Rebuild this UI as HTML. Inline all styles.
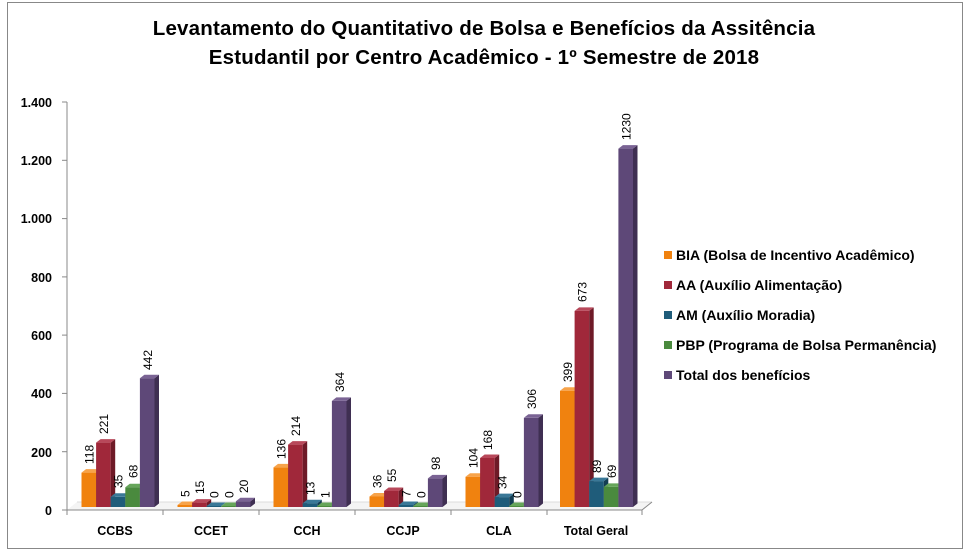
<!DOCTYPE html>
<html><head><meta charset="utf-8"><style>
html,body{margin:0;padding:0;background:#fff}
svg{display:block}
text{font-family:"Liberation Sans",Arial,sans-serif}
.t{font-family:"Liberation Sans",sans-serif;font-weight:bold;font-size:20.5px;fill:#000;letter-spacing:0.2px}
.y{font-weight:bold;font-size:12.5px;text-anchor:end}
.c{font-weight:bold;font-size:12.5px;text-anchor:middle}
.l{font-weight:bold;font-size:14px}
.v{font-size:12px}
.o0{fill:#F0820F}.o1{fill:#B35F08}.o2{fill:#F7A34A}
.r0{fill:#A0283A}.r1{fill:#6E1A27}.r2{fill:#B8485A}
.b0{fill:#1F5C7A}.b1{fill:#143E53}.b2{fill:#3A7897}
.g0{fill:#4A8A3E}.g1{fill:#32602A}.g2{fill:#66A55A}
.p0{fill:#5E4878}.p1{fill:#3F2F52}.p2{fill:#7A6394}
</style></head><body>
<svg width="967" height="554" viewBox="0 0 967 554" xmlns="http://www.w3.org/2000/svg">
<rect x="7.5" y="2.5" width="955" height="546" fill="#fff" stroke="#888" stroke-width="1"/>
<text class="t" x="484" y="35" text-anchor="middle">Levantamento do Quantitativo de Bolsa e Benefícios da Assitência</text>
<text class="t" x="484" y="64" text-anchor="middle">Estudantil  por Centro Acadêmico - 1º Semestre de 2018</text>

<line x1="67" y1="102" x2="67" y2="510" stroke="#888"/>
<g stroke="#888">
<line x1="62" y1="102" x2="67" y2="102"/><line x1="62" y1="160.3" x2="67" y2="160.3"/><line x1="62" y1="218.6" x2="67" y2="218.6"/><line x1="62" y1="276.9" x2="67" y2="276.9"/><line x1="62" y1="335.1" x2="67" y2="335.1"/><line x1="62" y1="393.4" x2="67" y2="393.4"/><line x1="62" y1="451.7" x2="67" y2="451.7"/><line x1="62" y1="510" x2="67" y2="510"/>
</g>
<g class="y">
<text x="52" y="107">1.400</text><text x="52" y="165">1.200</text><text x="52" y="223">1.000</text><text x="52" y="282">800</text><text x="52" y="340">600</text><text x="52" y="398">400</text><text x="52" y="457">200</text><text x="52" y="515">0</text>
</g>
<polygon points="67,510 77,502 652,502 642,510" fill="#f4f4f4"/>
<line x1="77" y1="502" x2="652" y2="502" stroke="#ddd"/>
<line x1="67" y1="510" x2="642" y2="510" stroke="#888"/>
<line x1="642" y1="510" x2="652" y2="502" stroke="#888"/>
<g stroke="#888">
<line x1="67" y1="510" x2="67" y2="515"/><line x1="163" y1="510" x2="163" y2="515"/><line x1="259" y1="510" x2="259" y2="515"/><line x1="355" y1="510" x2="355" y2="515"/><line x1="451" y1="510" x2="451" y2="515"/><line x1="547" y1="510" x2="547" y2="515"/><line x1="642" y1="510" x2="642" y2="515"/>
</g>
<g class="c">
<text x="115" y="535">CCBS</text><text x="211" y="535">CCET</text><text x="307" y="535">CCH</text><text x="403" y="535">CCJP</text><text x="499" y="535">CLA</text><text x="596" y="535">Total Geral</text>
</g>

<g class="v">
<g transform="translate(81.5,0)"><rect class="o0" y="472.6" width="14.6" height="34.4"/><polygon class="o1" points="14.6,472.6 19.1,469.1 19.1,503.5 14.6,507"/><polygon class="o2" points="0,472.6 4.5,469.1 19.1,469.1 14.6,472.6"/><text transform="translate(12,464) rotate(-90)">118</text></g>
<g transform="translate(96.1,0)"><rect class="r0" y="442.6" width="14.6" height="64.4"/><polygon class="r1" points="14.6,442.6 19.1,439.1 19.1,503.5 14.6,507"/><polygon class="r2" points="0,442.6 4.5,439.1 19.1,439.1 14.6,442.6"/><text transform="translate(12,434) rotate(-90)">221</text></g>
<g transform="translate(110.7,0)"><rect class="b0" y="496.8" width="14.6" height="10.2"/><polygon class="b1" points="14.6,496.8 19.1,493.3 19.1,503.5 14.6,507"/><polygon class="b2" points="0,496.8 4.5,493.3 19.1,493.3 14.6,496.8"/><text transform="translate(12,488) rotate(-90)">35</text></g>
<g transform="translate(125.3,0)"><rect class="g0" y="487.2" width="14.6" height="19.8"/><polygon class="g1" points="14.6,487.2 19.1,483.7 19.1,503.5 14.6,507"/><polygon class="g2" points="0,487.2 4.5,483.7 19.1,483.7 14.6,487.2"/><text transform="translate(12,478) rotate(-90)">68</text></g>
<g transform="translate(139.9,0)"><rect class="p0" y="378.2" width="14.6" height="128.8"/><polygon class="p1" points="14.6,378.2 19.1,374.7 19.1,503.5 14.6,507"/><polygon class="p2" points="0,378.2 4.5,374.7 19.1,374.7 14.6,378.2"/><text transform="translate(12,370) rotate(-90)">442</text></g>
<g transform="translate(177.5,0)"><rect class="o0" y="505" width="14.6" height="2"/><polygon class="o1" points="14.6,505 19.1,501.5 19.1,503.5 14.6,507"/><polygon class="o2" points="0,505 4.5,501.5 19.1,501.5 14.6,505"/><text transform="translate(12,497) rotate(-90)">5</text></g>
<g transform="translate(192.1,0)"><rect class="r0" y="502.6" width="14.6" height="4.4"/><polygon class="r1" points="14.6,502.6 19.1,499.1 19.1,503.5 14.6,507"/><polygon class="r2" points="0,502.6 4.5,499.1 19.1,499.1 14.6,502.6"/><text transform="translate(12,494) rotate(-90)">15</text></g>
<g transform="translate(206.7,0)"><rect class="b0" y="506" width="14.6" height="1"/><polygon class="b2" points="0,506 4.5,502.5 19.1,502.5 14.6,506"/><text transform="translate(12,498) rotate(-90)">0</text></g>
<g transform="translate(221.3,0)"><rect class="g0" y="506" width="14.6" height="1"/><polygon class="g2" points="0,506 4.5,502.5 19.1,502.5 14.6,506"/><text transform="translate(12,498) rotate(-90)">0</text></g>
<g transform="translate(235.9,0)"><rect class="p0" y="501.2" width="14.6" height="5.8"/><polygon class="p1" points="14.6,501.2 19.1,497.7 19.1,503.5 14.6,507"/><polygon class="p2" points="0,501.2 4.5,497.7 19.1,497.7 14.6,501.2"/><text transform="translate(12,493) rotate(-90)">20</text></g>
<g transform="translate(273.5,0)"><rect class="o0" y="467.4" width="14.6" height="39.6"/><polygon class="o1" points="14.6,467.4 19.1,463.9 19.1,503.5 14.6,507"/><polygon class="o2" points="0,467.4 4.5,463.9 19.1,463.9 14.6,467.4"/><text transform="translate(12,459) rotate(-90)">136</text></g>
<g transform="translate(288.1,0)"><rect class="r0" y="444.6" width="14.6" height="62.4"/><polygon class="r1" points="14.6,444.6 19.1,441.1 19.1,503.5 14.6,507"/><polygon class="r2" points="0,444.6 4.5,441.1 19.1,441.1 14.6,444.6"/><text transform="translate(12,436) rotate(-90)">214</text></g>
<g transform="translate(302.7,0)"><rect class="b0" y="503.2" width="14.6" height="3.8"/><polygon class="b1" points="14.6,503.2 19.1,499.7 19.1,503.5 14.6,507"/><polygon class="b2" points="0,503.2 4.5,499.7 19.1,499.7 14.6,503.2"/><text transform="translate(12,495) rotate(-90)">13</text></g>
<g transform="translate(317.3,0)"><rect class="g0" y="506" width="14.6" height="1"/><polygon class="g2" points="0,506 4.5,502.5 19.1,502.5 14.6,506"/><text transform="translate(12,498) rotate(-90)">1</text></g>
<g transform="translate(331.9,0)"><rect class="p0" y="400.9" width="14.6" height="106.1"/><polygon class="p1" points="14.6,400.9 19.1,397.4 19.1,503.5 14.6,507"/><polygon class="p2" points="0,400.9 4.5,397.4 19.1,397.4 14.6,400.9"/><text transform="translate(12,392) rotate(-90)">364</text></g>
<g transform="translate(369.5,0)"><rect class="o0" y="496.5" width="14.6" height="10.5"/><polygon class="o1" points="14.6,496.5 19.1,493 19.1,503.5 14.6,507"/><polygon class="o2" points="0,496.5 4.5,493 19.1,493 14.6,496.5"/><text transform="translate(12,488) rotate(-90)">36</text></g>
<g transform="translate(384.1,0)"><rect class="r0" y="491" width="14.6" height="16"/><polygon class="r1" points="14.6,491 19.1,487.5 19.1,503.5 14.6,507"/><polygon class="r2" points="0,491 4.5,487.5 19.1,487.5 14.6,491"/><text transform="translate(12,482) rotate(-90)">55</text></g>
<g transform="translate(398.7,0)"><rect class="b0" y="505" width="14.6" height="2"/><polygon class="b1" points="14.6,505 19.1,501.5 19.1,503.5 14.6,507"/><polygon class="b2" points="0,505 4.5,501.5 19.1,501.5 14.6,505"/><text transform="translate(12,497) rotate(-90)">7</text></g>
<g transform="translate(413.3,0)"><rect class="g0" y="506" width="14.6" height="1"/><polygon class="g2" points="0,506 4.5,502.5 19.1,502.5 14.6,506"/><text transform="translate(12,498) rotate(-90)">0</text></g>
<g transform="translate(427.9,0)"><rect class="p0" y="478.4" width="14.6" height="28.6"/><polygon class="p1" points="14.6,478.4 19.1,474.9 19.1,503.5 14.6,507"/><polygon class="p2" points="0,478.4 4.5,474.9 19.1,474.9 14.6,478.4"/><text transform="translate(12,470) rotate(-90)">98</text></g>
<g transform="translate(465.5,0)"><rect class="o0" y="476.7" width="14.6" height="30.3"/><polygon class="o1" points="14.6,476.7 19.1,473.2 19.1,503.5 14.6,507"/><polygon class="o2" points="0,476.7 4.5,473.2 19.1,473.2 14.6,476.7"/><text transform="translate(12,468) rotate(-90)">104</text></g>
<g transform="translate(480.1,0)"><rect class="r0" y="458" width="14.6" height="49"/><polygon class="r1" points="14.6,458 19.1,454.5 19.1,503.5 14.6,507"/><polygon class="r2" points="0,458 4.5,454.5 19.1,454.5 14.6,458"/><text transform="translate(12,450) rotate(-90)">168</text></g>
<g transform="translate(494.7,0)"><rect class="b0" y="497.1" width="14.6" height="9.9"/><polygon class="b1" points="14.6,497.1 19.1,493.6 19.1,503.5 14.6,507"/><polygon class="b2" points="0,497.1 4.5,493.6 19.1,493.6 14.6,497.1"/><text transform="translate(12,489) rotate(-90)">34</text></g>
<g transform="translate(509.3,0)"><rect class="g0" y="506" width="14.6" height="1"/><polygon class="g2" points="0,506 4.5,502.5 19.1,502.5 14.6,506"/><text transform="translate(12,498) rotate(-90)">0</text></g>
<g transform="translate(523.9,0)"><rect class="p0" y="417.8" width="14.6" height="89.2"/><polygon class="p1" points="14.6,417.8 19.1,414.3 19.1,503.5 14.6,507"/><polygon class="p2" points="0,417.8 4.5,414.3 19.1,414.3 14.6,417.8"/><text transform="translate(12,409) rotate(-90)">306</text></g>
<g transform="translate(560,0)"><rect class="o0" y="390.7" width="14.6" height="116.3"/><polygon class="o1" points="14.6,390.7 19.1,387.2 19.1,503.5 14.6,507"/><polygon class="o2" points="0,390.7 4.5,387.2 19.1,387.2 14.6,390.7"/><text transform="translate(12,382) rotate(-90)">399</text></g>
<g transform="translate(574.6,0)"><rect class="r0" y="310.9" width="14.6" height="196.1"/><polygon class="r1" points="14.6,310.9 19.1,307.4 19.1,503.5 14.6,507"/><polygon class="r2" points="0,310.9 4.5,307.4 19.1,307.4 14.6,310.9"/><text transform="translate(12,302) rotate(-90)">673</text></g>
<g transform="translate(589.2,0)"><rect class="b0" y="481.1" width="14.6" height="25.9"/><polygon class="b1" points="14.6,481.1 19.1,477.6 19.1,503.5 14.6,507"/><polygon class="b2" points="0,481.1 4.5,477.6 19.1,477.6 14.6,481.1"/><text transform="translate(12,473) rotate(-90)">89</text></g>
<g transform="translate(603.8,0)"><rect class="g0" y="486.9" width="14.6" height="20.1"/><polygon class="g1" points="14.6,486.9 19.1,483.4 19.1,503.5 14.6,507"/><polygon class="g2" points="0,486.9 4.5,483.4 19.1,483.4 14.6,486.9"/><text transform="translate(12,478) rotate(-90)">69</text></g>
<g transform="translate(618.4,0)"><rect class="p0" y="148.6" width="14.6" height="358.4"/><polygon class="p1" points="14.6,148.6 19.1,145.1 19.1,503.5 14.6,507"/><polygon class="p2" points="0,148.6 4.5,145.1 19.1,145.1 14.6,148.6"/><text transform="translate(12,140) rotate(-90)">1230</text></g>
</g>

<rect class="o0" x="664" y="251" width="8" height="8"/>
<rect class="r0" x="664" y="281" width="8" height="8"/>
<rect class="b0" x="664" y="311" width="8" height="8"/>
<rect class="g0" x="664" y="341" width="8" height="8"/>
<rect class="p0" x="664" y="371" width="8" height="8"/>
<g class="l">
<text x="676" y="260">BIA (Bolsa de Incentivo Acadêmico)</text>
<text x="676" y="290">AA (Auxílio Alimentação)</text>
<text x="676" y="320">AM (Auxílio Moradia)</text>
<text x="676" y="350">PBP (Programa de Bolsa Permanência)</text>
<text x="676" y="380">Total dos benefícios</text>
</g>
</svg>
</body></html>
